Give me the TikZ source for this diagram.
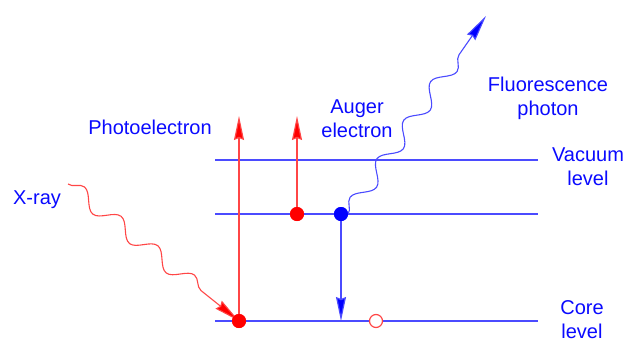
\documentclass[tikz,border=0pt]{standalone}
\usepackage{fontspec}
\setmainfont{Liberation Sans}
\usetikzlibrary{arrows.meta,decorations.pathmorphing}
\definecolor{levelblue}{RGB}{75,75,255}
\definecolor{textblue}{RGB}{10,10,255}
\definecolor{linered}{RGB}{255,70,70}
\begin{document}
\begin{tikzpicture}[x=1pt,y=-1pt,
    level/.style={draw=levelblue, line width=1.2pt},
    redline/.style={draw=linered, line width=1.2pt, -{Stealth[length=24pt,width=10pt,inset=2pt,fill=red]}},
    blueline/.style={draw=levelblue, line width=1.2pt, -{Stealth[length=24pt,width=10pt,inset=2pt,fill=blue]}},
    wave/.style={decorate, line width=1.1pt,
        decoration={snake, segment length=47pt, amplitude=8pt, post length=30pt}},
    dot/.style={circle, inner sep=0pt, minimum size=14pt},
    lbl/.style={text=textblue, font=\fontsize{20}{24}\selectfont, align=center}]
    \useasboundingbox (0,0) rectangle (630,338);
    % energy levels
    \coordinate (vacl) at (215,160);
    \coordinate (vacr) at (538,160);
    \coordinate (midl) at (215,214);
    \coordinate (midr) at (538,214);
    \coordinate (corel) at (215,321);
    \coordinate (corer) at (538,321);
    \draw[level] (vacl) -- (vacr);
    \draw[level] (midl) -- (midr);
    \draw[level] (corel) -- (corer);
    % electrons and hole
    \node[dot, fill=red] (photo) at (239,321) {};
    \node[dot, fill=red] (auger) at (297,214) {};
    \node[dot, fill=blue] (fill) at (341,214) {};
    \node[dot, draw=linered, fill=white, line width=1.2pt, minimum size=13pt] (hole) at (376,321) {};
    \coordinate (photoend) at (239,116);
    \coordinate (augerend) at (297,116);
    \coordinate (xraystart) at (68,184);
    \coordinate (photonend) at (486,16);
    % transitions
    \draw[redline] (photo.center) -- (photoend);
    \draw[redline] (auger.center) -- (augerend);
    \draw[blueline] (fill.center) -- (fill |- corel);
    \draw[wave, draw=linered, -{Stealth[length=26pt,width=10pt,inset=2pt,fill=red]}] (xraystart) -- (photo.center);
    \draw[wave, draw=levelblue, -{Stealth[length=26pt,width=10pt,inset=2pt,fill=blue]}] (fill.east) -- (photonend);
    % dots on top
    \fill[red] (photo) circle (7pt);
    \fill[red] (auger) circle (7pt);
    \fill[blue] (fill) circle (7pt);
    % labels
    \node[lbl] (xray) at (37,200) {X-ray};
    \node[lbl] (photolbl) at (150,127) {Photoelectron};
    \node[lbl] (augerlbl) at (357,119) {Auger\\electron};
    \node[lbl] (fluor) at (548,98) {Fluorescence\\photon};
    \node[lbl] (vac) at (588,167) {Vacuum\\level};
    \node[lbl] (core) at (582,320) {Core\\level};
\end{tikzpicture}
\end{document}
